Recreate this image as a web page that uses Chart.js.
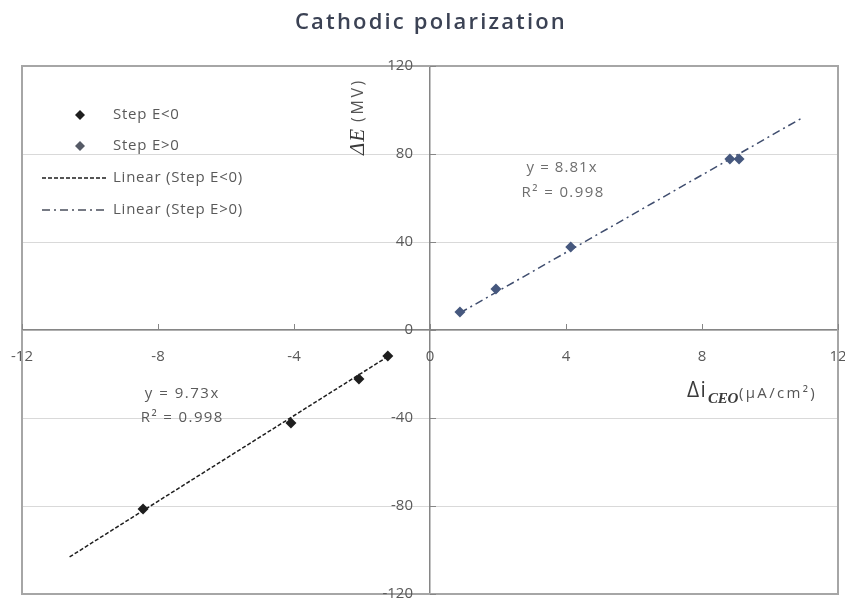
<!DOCTYPE html>
<html>
<head>
<meta charset="utf-8">
<script src="https://cdn.jsdelivr.net/npm/chart.js@4.4.0/dist/chart.umd.min.js"></script>
<style>
  html, body { margin: 0; padding: 0; background: #fff; }
  #wrap { width: 845px; height: 601px; position: relative; }
</style>
</head>
<body>
<div id="wrap"><canvas id="polChart"></canvas></div>
<script>
// values
const negX = [-1.24, -2.09, -4.09, -8.44];
const negY = [-11.8, -22.3, -42.3, -81.4];
const posX = [0.88, 1.94, 4.14, 8.82, 9.09];
const posY = [8.2, 18.6, 37.7, 77.7, 77.7];
const negSlope = 9.73;
const posSlope = 8.81;
const negFitRange = [-10.6, -1.2];
const posFitRange = [0.88, 10.9];
const xTicks = [-12, -8, -4, 0, 4, 8, 12];
const yTicks = [-120, -80, -40, 0, 40, 80, 120];
const seriesNames = ['Step E<0', 'Step E>0', 'Linear (Step E<0)', 'Linear (Step E>0)'];
const negFitText = ['y = 9.73x', 'R\u00b2 = 0.998'];
const posFitText = ['y = 8.81x', 'R\u00b2 = 0.998'];
const chartTitle = 'Cathodic polarization';

const negColor = '#1e1e1e';
const posColor = '#46587e';
const textFont = '"Open Sans"';
const tickGray = '#595959';

function pts(xs, ys) {
    return xs.map((v, i) => ({ x: v, y: ys[i] }));
}
function fitLine(range, slope) {
    return range.map(v => ({ x: v, y: slope * v }));
}

// draw left-aligned text stretched to a given width with letter spacing
function fitText(ctx, text, x, y, width) {
    ctx.letterSpacing = '0px';
    const w = ctx.measureText(text).width;
    const n = [...text].length;
    const sp = Math.max(-1, (width - w) / n);
    ctx.letterSpacing = sp + 'px';
    ctx.fillText(text, x, y);
    ctx.letterSpacing = '0px';
    return sp;
}

function diamond(ctx, x, y, r, color) {
    ctx.beginPath();
    ctx.moveTo(x, y - r);
    ctx.lineTo(x + r, y);
    ctx.lineTo(x, y + r);
    ctx.lineTo(x - r, y);
    ctx.closePath();
    ctx.fillStyle = color;
    ctx.fill();
}

const decor = {
    id: 'decor',
    afterDraw(chart) {
        const { ctx, chartArea: ca, scales: { x, y } } = chart;
        const x0 = x.getPixelForValue(0);
        const y0 = y.getPixelForValue(0);
        ctx.save();

        // plot frame
        ctx.strokeStyle = '#a6a6a6';
        ctx.lineWidth = 2;
        ctx.strokeRect(ca.left, ca.top, ca.right - ca.left, ca.bottom - ca.top);

        // small tick marks on the crossing axes
        ctx.strokeStyle = '#868686';
        ctx.lineWidth = 1;
        xTicks.forEach(v => {
            const px = Math.round(x.getPixelForValue(v)) + 0.5;
            ctx.beginPath(); ctx.moveTo(px, y0 - 6); ctx.lineTo(px, y0); ctx.stroke();
        });
        yTicks.forEach(v => {
            const py = Math.round(y.getPixelForValue(v)) + 0.5;
            ctx.beginPath(); ctx.moveTo(x0, py); ctx.lineTo(x0 + 6, py); ctx.stroke();
        });

        // tick labels
        ctx.fillStyle = tickGray;
        ctx.font = '15px ' + textFont;
        ctx.textBaseline = 'middle';
        ctx.textAlign = 'center';
        xTicks.forEach(v => ctx.fillText(String(v), x.getPixelForValue(v), y0 + 27));
        ctx.textAlign = 'right';
        yTicks.forEach(v => ctx.fillText(String(v), x0 - 17, y.getPixelForValue(v)));

        // title
        ctx.fillStyle = '#3b4254';
        ctx.font = '600 22px ' + textFont;
        ctx.textAlign = 'left';
        ctx.textBaseline = 'alphabetic';
        fitText(ctx, chartTitle, 295, 29, 272);

        // legend
        const rows = [115, 146, 178, 210];
        diamond(ctx, 80, rows[0], 5, negColor);
        diamond(ctx, 80, rows[1], 5, '#555a66');
        ctx.lineWidth = 1.5;
        ctx.strokeStyle = negColor;
        ctx.setLineDash([4, 2]);
        ctx.beginPath(); ctx.moveTo(42, rows[2]); ctx.lineTo(107, rows[2]); ctx.stroke();
        ctx.strokeStyle = '#4a4f5c';
        ctx.setLineDash([8, 4, 2, 4]);
        ctx.beginPath(); ctx.moveTo(42, rows[3]); ctx.lineTo(107, rows[3]); ctx.stroke();
        ctx.setLineDash([]);
        ctx.font = '15px ' + textFont;
        ctx.textBaseline = 'middle';
        ctx.fillStyle = tickGray;
        ctx.letterSpacing = '0px';
        const lw = ctx.measureText(seriesNames[2]).width;
        const lsp = Math.max(-1, (130 - lw) / seriesNames[2].length);
        ctx.letterSpacing = lsp + 'px';
        seriesNames.forEach((n, i) => ctx.fillText(n, 113, rows[i]));
        ctx.letterSpacing = '0px';

        // trendline equations
        ctx.font = '15px ' + textFont;
        ctx.fillStyle = '#5a5a5a';
        const nx = x.getPixelForValue(-7.3);
        fitText(ctx, negFitText[0], nx - 37, y.getPixelForValue(-29), 75);
        fitText(ctx, negFitText[1], nx - 41, y.getPixelForValue(-40), 83);
        ctx.fillStyle = '#6e6e6e';
        const px = x.getPixelForValue(3.9);
        fitText(ctx, posFitText[0], px - 36, y.getPixelForValue(73.6), 71);
        fitText(ctx, posFitText[1], px - 41, y.getPixelForValue(62.5), 83);

        // y axis title (rotated)
        ctx.save();
        ctx.translate(357, 155);
        ctx.rotate(-Math.PI / 2);
        ctx.textAlign = 'left';
        ctx.textBaseline = 'middle';
        ctx.fillStyle = '#3a3a3a';
        ctx.font = 'italic 21px "Liberation Serif"';
        fitText(ctx, '\u0394E', 0, 1, 27);
        ctx.font = '16px ' + textFont;
        ctx.fillStyle = '#555';
        fitText(ctx, '(MV)', 33, 1, 44);
        ctx.restore();

        // x axis title
        ctx.textAlign = 'left';
        ctx.textBaseline = 'alphabetic';
        ctx.fillStyle = '#3a3a3a';
        ctx.font = '21px ' + textFont;
        fitText(ctx, '\u0394i', 687, 397, 20);
        ctx.font = 'bold italic 15px "Liberation Serif"';
        fitText(ctx, 'CEO', 708, 403, 30);
        ctx.font = '15px ' + textFont;
        ctx.fillStyle = '#555';
        fitText(ctx, '(\u03bcA/cm\u00b2)', 739, 398, 78);

        ctx.restore();
    }
};

new Chart(document.getElementById('polChart'), {
    type: 'scatter',
    data: {
        datasets: [
            {
                label: seriesNames[0],
                data: pts(negX, negY),
                pointStyle: 'rectRot',
                pointRadius: 5.5,
                backgroundColor: negColor,
                borderColor: negColor,
                borderWidth: 0,
                order: 1
            },
            {
                label: seriesNames[1],
                data: pts(posX, posY),
                pointStyle: 'rectRot',
                pointRadius: 5.5,
                backgroundColor: posColor,
                borderColor: posColor,
                borderWidth: 0,
                order: 1
            },
            {
                label: seriesNames[2],
                data: fitLine(negFitRange, negSlope),
                showLine: true,
                pointRadius: 0,
                borderColor: negColor,
                borderWidth: 1.5,
                borderDash: [4, 2],
                order: 2
            },
            {
                label: seriesNames[3],
                data: fitLine(posFitRange, posSlope),
                showLine: true,
                pointRadius: 0,
                borderColor: '#3f4d6e',
                borderWidth: 1.5,
                borderDash: [8, 4, 2, 4],
                order: 2
            }
        ]
    },
    options: {
        responsive: true,
        maintainAspectRatio: false,
        animation: false,
        layout: { padding: { top: 66, left: 22, right: 7, bottom: 7 } },
        plugins: {
            legend: { display: false },
            tooltip: { enabled: false },
            title: { display: false }
        },
        scales: {
            x: {
                type: 'linear',
                min: -12,
                max: 12,
                position: { y: 0 },
                afterBuildTicks: s => { s.ticks = xTicks.map(v => ({ value: v })); },
                grid: { drawOnChartArea: false, drawTicks: false },
                border: { display: true, color: '#868686', width: 1.5 },
                ticks: { display: false }
            },
            y: {
                type: 'linear',
                min: -120,
                max: 120,
                position: { x: 0 },
                afterBuildTicks: s => { s.ticks = yTicks.map(v => ({ value: v })); },
                grid: { color: '#d9d9d9', drawTicks: false },
                border: { display: true, color: '#868686', width: 1.5 },
                ticks: { display: false }
            }
        }
    },
    plugins: [decor]
});
</script>
</body>
</html>
